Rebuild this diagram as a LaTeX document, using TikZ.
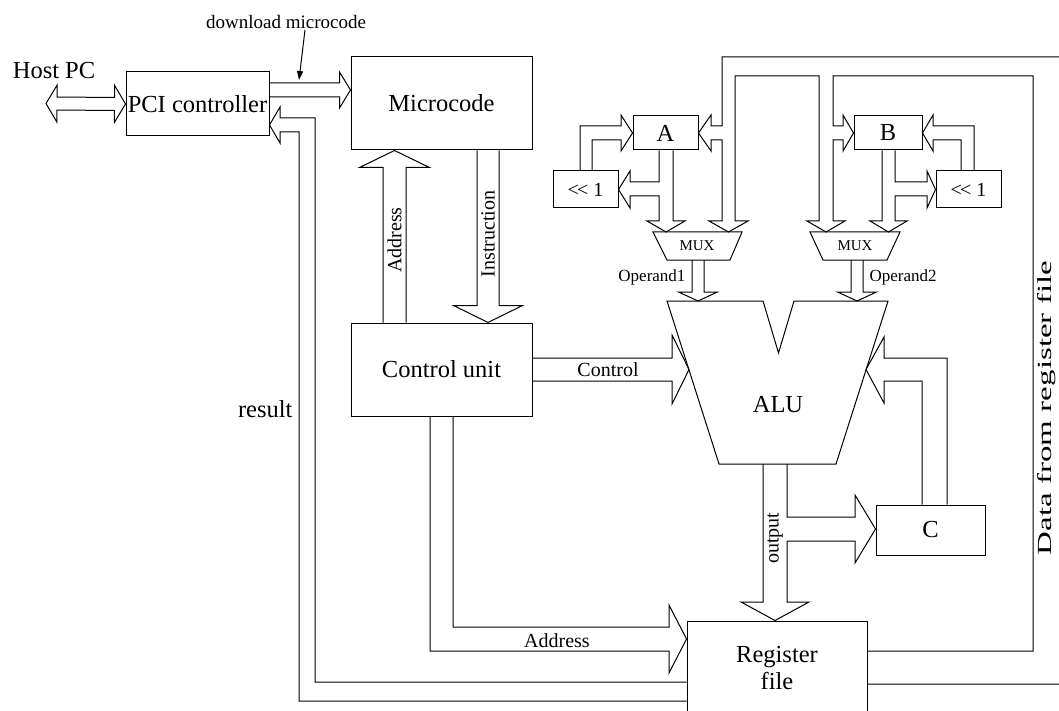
\documentclass[tikz,border=0pt]{standalone}
\usepackage{fontspec}
\setmainfont{Liberation Serif}
\usetikzlibrary{arrows.meta, calc, positioning}

\tikzset{
  blk/.style={draw, line width=1pt, inner sep=0pt},
  bus/.style={draw, line width=1pt, line join=miter},
  big/.style={font=\fontsize{24.5}{27}\selectfont},
  mid/.style={font=\fontsize{20}{22}\selectfont},
  small/.style={font=\fontsize{17}{19}\selectfont},
  tiny/.style={font=\fontsize{15}{17}\selectfont},
}

% hollow bus arrow: from, to, half shaft, half head, head length
\newcommand{\busarrow}[5]{%
  \coordinate (hb) at ($(#2)!#5!(#1)$);
  \draw[bus] ($(#1)!#3!90:(#2)$) -- ($(hb)!#3!90:(#2)$) -- ($(hb)!#4!90:(#2)$) -- (#2)
    -- ($(hb)!#4!-90:(#2)$) -- ($(hb)!#3!-90:(#2)$) -- ($(#1)!#3!-90:(#2)$);}
% same with a head on both ends
\newcommand{\dbusarrow}[5]{%
  \coordinate (hba) at ($(#1)!#5!(#2)$);
  \coordinate (hbb) at ($(#2)!#5!(#1)$);
  \draw[bus] (#1) -- ($(hba)!#4!90:(#2)$) -- ($(hba)!#3!90:(#2)$) -- ($(hbb)!#3!-90:(#1)$)
    -- ($(hbb)!#4!-90:(#1)$) -- (#2) -- ($(hbb)!#4!90:(#1)$) -- ($(hbb)!#3!90:(#1)$)
    -- ($(hba)!#3!-90:(#2)$) -- ($(hba)!#4!-90:(#2)$) -- cycle;}

\begin{document}
\begin{tikzpicture}[x=1pt, y=-1pt]
  \useasboundingbox (0,0) rectangle (1059,711);
  \clip (0,0) rectangle (1059,711);

  % blocks
  \node[blk, big, minimum width=143pt, minimum height=64pt] (pci) at (197.5,104) {PCI controller};
  \node[blk, big, minimum width=181pt, minimum height=93pt] (micro) at (441.5,103.5) {Microcode};
  \node[blk, big, minimum width=181pt, minimum height=93pt] (ctrl) at (441.5,369.5) {Control unit};
  \node[blk, minimum width=180pt, minimum height=114pt] (regf) at (777,678) {};
  \node[big, align=center] (regtxt) at (777,668) {Register\\file};
  \node[blk, big, minimum width=109pt, minimum height=50pt] (cbox) at (930.5,530) {C};
  \node[blk, big, minimum width=65pt, minimum height=34pt] (areg) at (665.5,133) {A};
  \node[blk, big, minimum width=68pt, minimum height=34pt] (breg) at (888,133) {B};
  \node[blk, mid, minimum width=65pt, minimum height=37pt] (shla) at (585.5,189.5) {<\kern-2pt< 1};
  \node[blk, mid, minimum width=65pt, minimum height=37pt] (shlb) at (968.5,189.5) {<\kern-2pt< 1};

  % ALU and muxes
  \draw[blk] (667,301) -- (763,301) -- (778.5,353) -- (794,301) -- (888,301)
    -- (836,464) -- (719,464) -- cycle;
  \node[big] (alu) at (778,405) {ALU};
  \coordinate (aluL) at (689,369.5);
  \coordinate (aluR) at (866,369.5);
  \draw[blk] (653,232) -- (742,232) -- (730,260) -- (667,260) -- cycle;
  \node[tiny] (muxa) at (697,246) {MUX};
  \draw[blk] (810,232) -- (900,232) -- (887,260) -- (823,260) -- cycle;
  \node[tiny] (muxb) at (855,246) {MUX};

  % texts
  \node[big] (host) at (54,71) {Host PC};
  \node[font=\fontsize{19}{21}\selectfont, inner sep=1pt] (dl) at (286,22) {download microcode};
  \node[mid, rotate=90] (adrlbl) at (394.5,240) {Address};
  \node[mid, rotate=90] (inslbl) at (488,234) {Instruction};
  \node[mid] (ctrllbl) at (608,369.5) {Control};
  \node[small, anchor=east] (op1) at (689,277) {Operand1};
  \node[small, anchor=west] (op2) at (866,277) {Operand2};
  \node[mid, rotate=90] (outlbl) at (775,538) {output};
  \node[mid] (adr2lbl) at (557,641) {Address};
  \node[big, anchor=east] (reslbl) at (296,409) {result};
  \node[mid, rotate=90] (datalbl) at (1047,408) {\scalebox{1.65}[1]{Data from register file}};

  % straight buses
  \coordinate (hostL) at (46,103.5);
  \dbusarrow{hostL}{pci.west}{6.5pt}{18.5pt}{11pt}
  \coordinate (dlA) at (pci.east |- 0,90);
  \coordinate (dlB) at (micro.west |- 0,90);
  \busarrow{dlA}{dlB}{7pt}{18pt}{11pt}
  \coordinate (dlpt) at (299,80);
  \draw[line width=1pt, -{Triangle[length=9pt,width=6pt]}] ([xshift=19pt]dl.south) -- (dlpt);
  \coordinate (adrA) at (ctrl.north -| 394.5,0);
  \coordinate (adrB) at (micro.south -| 394.5,0);
  \busarrow{adrA}{adrB}{11.5pt}{35pt}{17pt}
  \coordinate (insA) at (micro.south -| 488,0);
  \coordinate (insB) at (ctrl.north -| 488,0);
  \busarrow{insA}{insB}{11pt}{34.5pt}{17pt}
  \busarrow{ctrl.east}{aluL}{11.5pt}{34.5pt}{17pt}
  \coordinate (op1A) at (698,260);
  \coordinate (op1B) at (698,301);
  \busarrow{op1A}{op1B}{6pt}{19.5pt}{9pt}
  \coordinate (op2A) at (857,260);
  \coordinate (op2B) at (857,301);
  \busarrow{op2A}{op2B}{6pt}{19.5pt}{9pt}

  % result back to the PCI controller
  \draw[bus] (regf.west |- 0,682) -- (315,682) -- (315,118) -- (280,118) -- (280,107)
    -- (pci.east |- 0,125) -- (280,143) -- (280,132) -- (299,132) -- (299,701) -- (regf.west |- 0,701);
  % address to the register file
  \draw[bus] (ctrl.south -| 430,0) -- (430,651) -- (669,651) -- (669,673) -- (regf.west |- 0,639)
    -- (669,605) -- (669,627) -- (453,627) -- (ctrl.south -| 453,0);
  % ALU output
  \draw[bus] (763,464) -- (763,602) -- (741,602) -- (regf.north -| 775,0) -- (809,602) -- (787,602)
    -- (787,541) -- (855,541) -- (855,563) -- (cbox.west |- 0,529) -- (855,495) -- (855,517)
    -- (787,517) -- (787,464);
  % C back into the ALU
  \draw[bus] (cbox.north -| 922,0) -- (922,381) -- (884,381) -- (884,403) -- (aluR)
    -- (884,337) -- (884,358) -- (947,358) -- (cbox.north -| 947,0);

  % A side
  \draw[bus] (shla.north -| 580,0) -- (580,126) -- (621,126) -- (621,115) -- (areg.west)
    -- (621,151) -- (621,140) -- (592,140) -- (shla.north -| 592,0);
  \draw[bus] (areg.south -| 659,0) -- (659,182) -- (630,182) -- (630,171) -- (shla.east)
    -- (630,208) -- (630,196) -- (659,196) -- (659,221) -- (647,221) -- (666,232) -- (685,221)
    -- (673,221) -- (areg.south -| 673,0);
  % B side
  \draw[bus] (breg.south -| 895,0) -- (895,182) -- (927,182) -- (927,171) -- (shlb.west)
    -- (927,208) -- (927,196) -- (895,196) -- (895,221) -- (907,221) -- (888.5,232) -- (870,221)
    -- (882,221) -- (breg.south -| 882,0);
  \draw[bus] (shlb.north -| 974,0) -- (974,126) -- (933,126) -- (933,115) -- (breg.east)
    -- (933,151) -- (933,140) -- (961,140) -- (shlb.north -| 961,0);

  % data from the register file
  \draw[bus] (regf.east |- 0,684) -- (1075,684) -- (1075,57) -- (722,57) -- (722,126) -- (711,126)
    -- (711,115) -- (areg.east) -- (711,151) -- (711,140) -- (722,140) -- (722,221) -- (709,221)
    -- (728.5,232) -- (748,221) -- (735,221) -- (735,76) -- (819,76) -- (819,221) -- (807,221)
    -- (826,232) -- (845,221) -- (833,221) -- (833,140) -- (843,140) -- (843,151) -- (breg.west)
    -- (843,115) -- (843,126) -- (833,126) -- (833,76) -- (1033,76) -- (1033,651) -- (regf.east |- 0,651);
\end{tikzpicture}
\end{document}
